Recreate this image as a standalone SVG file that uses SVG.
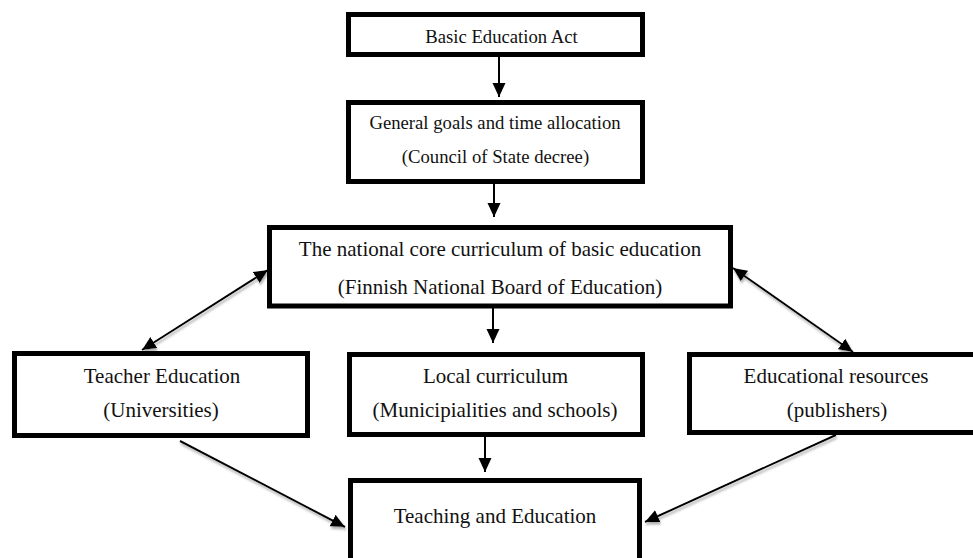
<svg xmlns="http://www.w3.org/2000/svg" width="973" height="558" viewBox="0 0 973 558">
  <style>
    .box { fill: #ffffff; stroke: #000000; stroke-width: 5; }
    .t18 { font-family: "Liberation Serif", "Times New Roman", serif; font-size: 18.7px; fill: #111111; text-anchor: middle; }
    .t21 { font-family: "Liberation Serif", "Times New Roman", serif; font-size: 21px; fill: #111111; text-anchor: middle; }
    .link { fill: none; stroke: #000000; stroke-width: 2; }
    .shadowed { filter: url(#soft); }
  </style>
  <defs>
    <marker id="head" viewBox="0 0 14 14" refX="14" refY="7" markerWidth="14" markerHeight="14" markerUnits="userSpaceOnUse" orient="auto-start-reverse">
      <path d="M0,0.5 L14,7 L0,13.5 z" fill="#000000"/>
    </marker>
    <filter id="soft" x="-20%" y="-20%" width="140%" height="140%">
      <feDropShadow dx="1" dy="2.5" stdDeviation="0.8" flood-color="#9a9a9a" flood-opacity="0.8"/>
    </filter>
  </defs>

  <rect width="973" height="558" fill="#ffffff"/>

  <g id="connectors">
    <line class="link" x1="499" y1="57" x2="499" y2="97" marker-end="url(#head)"/>
    <line class="link" x1="494" y1="184" x2="494" y2="217" marker-end="url(#head)"/>
    <line class="link" x1="493" y1="308" x2="493" y2="343" marker-end="url(#head)"/>
    <line class="link" x1="485" y1="437" x2="485" y2="472" marker-end="url(#head)"/>
    <line class="link shadowed" x1="142" y1="350" x2="268" y2="270" marker-start="url(#head)" marker-end="url(#head)"/>
    <line class="link shadowed" x1="853" y1="352" x2="733" y2="268" marker-start="url(#head)" marker-end="url(#head)"/>
    <line class="link shadowed" x1="180" y1="441" x2="345" y2="527" marker-end="url(#head)"/>
    <line class="link shadowed" x1="836" y1="435" x2="645" y2="522" marker-end="url(#head)"/>
  </g>

  <g id="basic-education-act">
    <rect class="box" x="348.5" y="14.5" width="294" height="40"/>
    <text class="t18" x="501.5" y="43">Basic Education Act</text>
  </g>

  <g id="general-goals">
    <rect class="box" x="348.5" y="102.5" width="294" height="79"/>
    <text class="t18" x="495" y="129">General goals and time allocation</text>
    <text class="t18" x="495.5" y="163">(Council of State decree)</text>
  </g>

  <g id="national-core-curriculum">
    <rect class="box" x="269.5" y="227.5" width="461" height="78.5"/>
    <text class="t21" x="500" y="256">The national core curriculum of basic education</text>
    <text class="t21" x="500" y="294">(Finnish National Board of Education)</text>
  </g>

  <g id="teacher-education">
    <rect class="box" x="14.5" y="353.5" width="293" height="82"/>
    <text class="t21" x="162" y="383">Teacher Education</text>
    <text class="t21" x="161" y="417">(Universities)</text>
  </g>

  <g id="local-curriculum">
    <rect class="box" x="349.5" y="354.5" width="293" height="80"/>
    <text class="t21" x="495.5" y="383">Local curriculum</text>
    <text class="t21" x="495" y="417">(Municipialities and schools)</text>
  </g>

  <g id="educational-resources">
    <rect class="box" x="689.5" y="354.5" width="300" height="78"/>
    <text class="t21" x="836" y="383">Educational resources</text>
    <text class="t21" x="837" y="417">(publishers)</text>
  </g>

  <g id="teaching-and-education">
    <rect class="box" x="350.5" y="480.5" width="289" height="100"/>
    <text class="t21" x="495" y="523">Teaching and Education</text>
  </g>
</svg>
